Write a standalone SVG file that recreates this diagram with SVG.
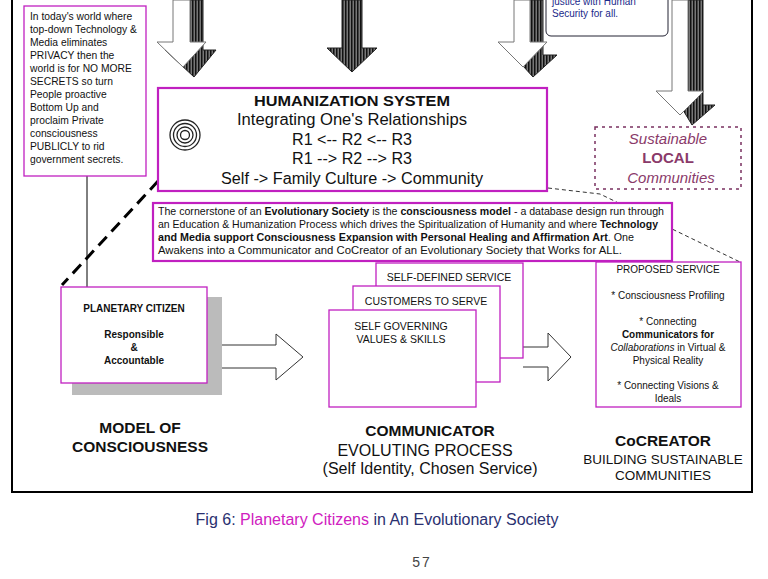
<svg xmlns="http://www.w3.org/2000/svg" width="768" height="579" viewBox="0 0 768 579">
<style>
text{font-family:"Liberation Sans",Arial,sans-serif;fill:#111}
.m{fill:#fff;stroke:#c020c0;stroke-width:1.3}
.m2{fill:#fff;stroke:#c020c0;stroke-width:2.2}
.wh{fill:#fff;stroke:#777;stroke-width:1}
.c{text-anchor:middle}
</style>
<defs>
<pattern id="h" width="3" height="3" patternUnits="userSpaceOnUse"><rect width="3" height="3" fill="#777"/><rect width="1.5" height="3" fill="#111"/></pattern>
</defs>
<rect width="768" height="579" fill="#fff"/>
<rect x="12" y="-5" width="740" height="497" fill="none" stroke="#000" stroke-width="2"/>
<g id="arrows-top">
<path d="M188,0H203V50H216L194,77L165,50H188Z" fill="url(#h)" stroke="#222"/>
<path d="M173,0H190V42H206L183,67L157,42H173Z" class="wh"/>
<path d="M342,0H362V48H377L352,72L327,48H342Z" fill="url(#h)" stroke="#222"/>
<path d="M528,0H543V55H557L533,77L513,55H528Z" fill="url(#h)" stroke="#222"/>
<path d="M514,0H530V42H547L523,67L498,42H514Z" class="wh"/>
<path d="M688,0H703V105H715L692,125L680,105H688Z" fill="url(#h)" stroke="#222"/>
<path d="M672,0H688V91H704L680,115L656,91H672Z" class="wh"/>
</g>
<g id="security">
<rect x="546" y="-10" width="122" height="46" rx="5" fill="#fff" stroke="#223"/>
<text x="552" y="5" font-size="10" style="fill:#1a2a8a">justice with Human</text>
<text x="552" y="17" font-size="10" style="fill:#1a2a8a">Security for all.</text>
</g>
<g id="local">
<rect x="595" y="127" width="146" height="62" fill="#fff" stroke="#7a3060" stroke-width="1.5" stroke-dasharray="3,4"/>
<text x="668" y="144" class="c" font-size="15" font-style="italic" style="fill:#8a3a6a">Sustainable</text>
<text x="668" y="163" class="c" font-size="15" font-weight="bold" style="fill:#8a3a6a">LOCAL</text>
<text x="671" y="183" class="c" font-size="15" font-style="italic" style="fill:#8a3a6a">Communities</text>
</g>
<g id="connectors" fill="none">
<line x1="87" y1="176" x2="87" y2="287" stroke="#000"/>
<line x1="197" y1="139" x2="62" y2="285" stroke="#000" stroke-width="3" stroke-dasharray="12,7"/>
<polyline points="548,188 600,194 740,262" stroke="#333" stroke-dasharray="4,3"/>
<path d="M212,345H276V334L303,357L276,380V368H212" fill="#fff" stroke="#333"/>
<path d="M523,347H548V333L571,357L548,381V367H523" fill="#fff" stroke="#333"/>
</g>
<g id="privacy">
<rect x="24" y="6" width="122" height="170" class="m"/>
<text font-size="10.3"><tspan x="30" y="20">In today's world where</tspan><tspan x="30" y="33">top-down Technology &amp;</tspan><tspan x="30" y="46">Media eliminates</tspan><tspan x="30" y="59">PRIVACY then the</tspan><tspan x="30" y="72">world is for NO MORE</tspan><tspan x="30" y="85">SECRETS so turn</tspan><tspan x="30" y="98">People proactive</tspan><tspan x="30" y="111">Bottom Up and</tspan><tspan x="30" y="124">proclaim Private</tspan><tspan x="30" y="137">consciousness</tspan><tspan x="30" y="150">PUBLICLY to rid</tspan><tspan x="30" y="163">government secrets.</tspan></text>
</g>
<g id="humanization">
<rect x="158" y="88" width="389" height="103" class="m2"/>
<text x="352" y="106" class="c" font-size="15" font-weight="bold" textLength="196" lengthAdjust="spacingAndGlyphs">HUMANIZATION SYSTEM</text>
<text x="352" y="125" class="c" font-size="16" textLength="230" lengthAdjust="spacingAndGlyphs">Integrating One's Relationships</text>
<text x="352" y="145" class="c" font-size="16" textLength="120" lengthAdjust="spacingAndGlyphs">R1 &lt;-- R2 &lt;-- R3</text>
<text x="352" y="164" class="c" font-size="16" textLength="120" lengthAdjust="spacingAndGlyphs">R1 --&gt; R2 --&gt; R3</text>
<text x="352" y="184" class="c" font-size="16" textLength="262" lengthAdjust="spacingAndGlyphs">Self -&gt; Family Culture -&gt; Community</text>
<g fill="none" stroke="#222" stroke-width="1.3"><circle cx="185" cy="135" r="4.5"/><circle cx="185" cy="135" r="8"/><circle cx="185" cy="135" r="11.5"/><circle cx="185" cy="135" r="15"/></g>
</g>
<g id="cornerstone">
<rect x="153" y="203" width="519" height="58" class="m2"/>
<text font-size="10.2"><tspan x="158" y="215" textLength="506" lengthAdjust="spacingAndGlyphs">The cornerstone of an <tspan font-weight="bold">Evolutionary Society</tspan> is the <tspan font-weight="bold">consciousness model</tspan> - a database design run through</tspan><tspan x="158" y="228" textLength="500" lengthAdjust="spacingAndGlyphs">an Education &amp; Humanization Process  which drives the Spiritualization of Humanity and where <tspan font-weight="bold">Technology</tspan></tspan><tspan x="158" y="241" font-weight="bold" textLength="476" lengthAdjust="spacingAndGlyphs">and Media support Consciousness Expansion with Personal Healing and Affirmation Art<tspan font-weight="normal">. One</tspan></tspan><tspan x="158" y="254" textLength="464" lengthAdjust="spacingAndGlyphs">Awakens into a Communicator and CoCreator of an Evolutionary Society that Works for ALL.</tspan></text>
</g>
<g id="citizen">
<rect x="72" y="297" width="150" height="98" fill="#bbb"/>
<rect x="61" y="287" width="146" height="96" class="m"/>
<text x="134" y="312" class="c" font-size="10" font-weight="bold">PLANETARY CITIZEN</text>
<text x="134" y="338" class="c" font-size="10" font-weight="bold">Responsible</text>
<text x="134" y="351" class="c" font-size="10" font-weight="bold">&amp;</text>
<text x="134" y="364" class="c" font-size="10" font-weight="bold">Accountable</text>
</g>
<g id="communicator-stack">
<rect x="376" y="263" width="147" height="95" class="m"/>
<text x="449" y="281" class="c" font-size="10.5">SELF-DEFINED SERVICE</text>
<rect x="353" y="286" width="147" height="96" class="m"/>
<text x="426" y="305" class="c" font-size="10.5">CUSTOMERS TO SERVE</text>
<rect x="329" y="310" width="147" height="97" class="m"/>
<text x="401" y="330" class="c" font-size="10.5">SELF GOVERNING</text>
<text x="401" y="343" class="c" font-size="10.5">VALUES &amp; SKILLS</text>
</g>
<g id="proposed">
<rect x="596" y="262" width="145" height="145" class="m"/>
<g font-size="10"><text x="668" y="273" class="c">PROPOSED SERVICE</text><text x="668" y="299" class="c">* Consciousness Profiling</text><text x="668" y="325" class="c">* Connecting</text><text x="668" y="338" class="c" font-weight="bold">Communicators for</text><text x="668" y="351" class="c"><tspan font-style="italic">Collaborations</tspan> in Virtual &amp;</text><text x="668" y="364" class="c">Physical Reality</text><text x="668" y="389" class="c">* Connecting Visions &amp;</text><text x="668" y="402" class="c">Ideals</text></g>
</g>
<g id="labels">
<text x="140" y="433" class="c" font-size="15.5" font-weight="bold">MODEL OF</text>
<text x="140" y="452" class="c" font-size="15.5" font-weight="bold">CONSCIOUSNESS</text>
<text x="430" y="436" class="c" font-size="15.5" font-weight="bold">COMMUNICATOR</text>
<text x="425" y="456" class="c" font-size="16">EVOLUTING PROCESS</text>
<text x="430" y="474" class="c" font-size="16">(Self Identity, Chosen Service)</text>
<text x="663" y="446" class="c" font-size="15.5" font-weight="bold">CoCREATOR</text>
<text x="663" y="464" class="c" font-size="13.5">BUILDING SUSTAINABLE</text>
<text x="663" y="480" class="c" font-size="13.5">COMMUNITIES</text>
</g>
<text x="377" y="525" class="c" font-size="16" style="fill:#2a3070">Fig 6: <tspan style="fill:#d020c0">Planetary Citizens</tspan> in An Evolutionary Society</text>
<text x="422" y="567" class="c" font-size="14" letter-spacing="2" style="fill:#444">57</text>
</svg>
